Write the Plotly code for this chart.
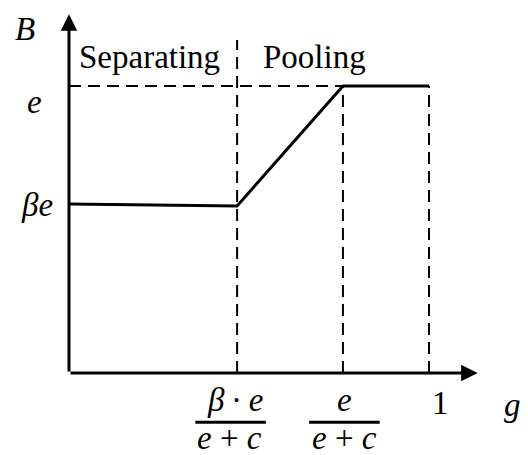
import plotly.graph_objects as go

# piecewise bonus schedule B(g)
g_vals = [0, 0.467, 0.761, 1.0]
b_vals = [0.589, 0.582, 1.0, 1.0]

g_lo = 0.467     # beta*e/(e+c)
g_hi = 0.761     # e/(e+c)
e_level = 1.0

# page body has an 8px margin, so the figure is a bit smaller than the window
x_range = [-0.1694, 1.275]
y_range = [-0.2857, 1.2718]

math_font = dict(family="Liberation Serif", size=33, color="black")
text_font = dict(family="Liberation Serif", size=33, color="black")

fig = go.Figure()

dash = dict(color="black", width=2, dash="12px,7px")
# guide lines
fig.add_trace(go.Scatter(x=[0, g_hi], y=[e_level, e_level], mode="lines", line=dash))
fig.add_trace(go.Scatter(x=[g_lo, g_lo], y=[0, 1.16], mode="lines", line=dash))
fig.add_trace(go.Scatter(x=[g_hi, g_hi], y=[0, e_level], mode="lines", line=dash))
fig.add_trace(go.Scatter(x=[1, 1], y=[0, e_level], mode="lines", line=dash))

# schedule
fig.add_trace(go.Scatter(x=g_vals, y=b_vals, mode="lines",
                         line=dict(color="black", width=3)))

# axes with arrow heads
fig.add_annotation(x=1.135, y=0, ax=0, ay=0, xref="x", yref="y", axref="x", ayref="y",
                   showarrow=True, arrowhead=2, arrowsize=1.1, arrowwidth=3,
                   arrowcolor="black", text="")
fig.add_annotation(x=0, y=1.25, ax=0, ay=0, xref="x", yref="y", axref="x", ayref="y",
                   showarrow=True, arrowhead=2, arrowsize=1.1, arrowwidth=3,
                   arrowcolor="black", text="")

def label(x, y, t, font):
    fig.add_annotation(x=x, y=y, text=t, showarrow=False, font=font,
                       xanchor="center", yanchor="middle")

label(-0.122, 1.199, "<i>B</i>", math_font)
label(-0.097, 0.945, "<i>e</i>", math_font)
label(-0.089, 0.585, "<i>βe</i>", math_font)
label(0.225, 1.101, "Separating", text_font)
label(0.683, 1.101, "Pooling", text_font)
label(1.031, -0.105, "1", math_font)
label(1.232, -0.112, "<i>g</i>", math_font)

# fractions
label(0.462, -0.095, "<i>β</i>\u2009·\u2009<i>e</i>", math_font)
label(0.447, -0.228, "<i>e</i> + <i>c</i>", math_font)
label(0.764, -0.095, "<i>e</i>", math_font)
label(0.764, -0.228, "<i>e</i> + <i>c</i>", math_font)
for cx in [0.449, 0.765]:
    fig.add_shape(type="line", x0=cx - 0.098, x1=cx + 0.098, y0=-0.172, y1=-0.172,
                  line=dict(color="black", width=3))

fig.update_layout(
    width=520, height=447,
    margin=dict(l=0, r=0, t=0, b=0),
    paper_bgcolor="white", plot_bgcolor="white",
    showlegend=False,
    xaxis=dict(range=x_range, visible=False, fixedrange=True),
    yaxis=dict(range=y_range, visible=False, fixedrange=True),
)

fig.write_html("out.html")
